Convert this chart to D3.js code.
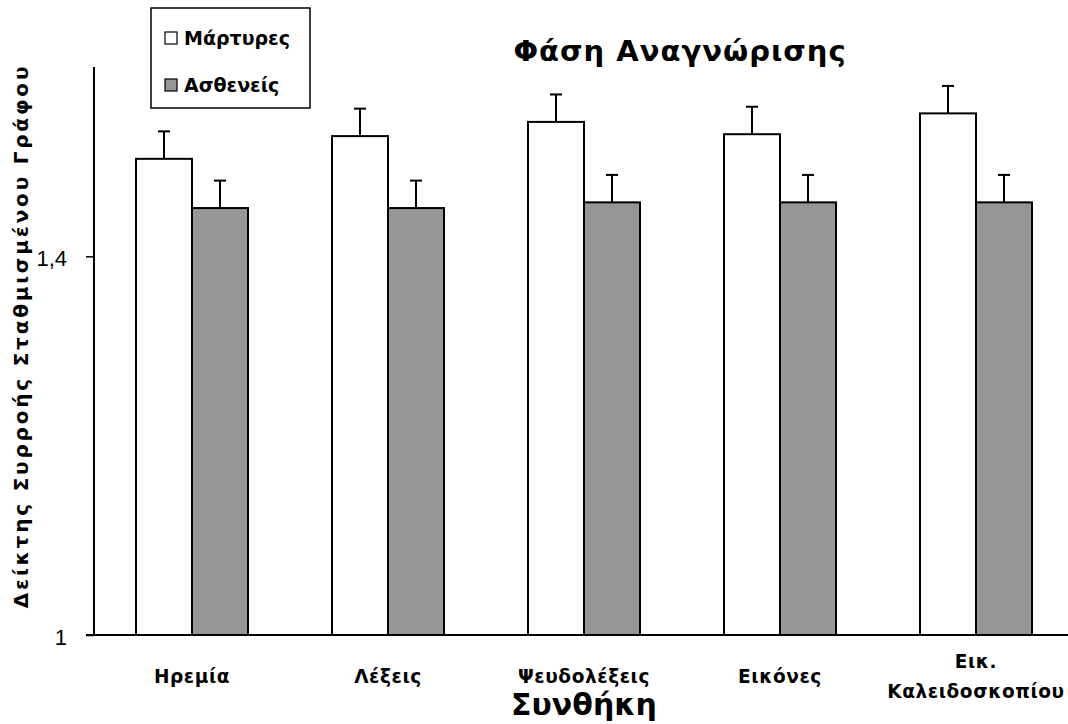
<!DOCTYPE html>
<html>
<head>
<meta charset="utf-8">
<script src="https://cdn.jsdelivr.net/npm/d3@7"></script>
<style>
  body { margin: 0; background: #fff; }
  svg { display: block; }
</style>
</head>
<body>
<svg id="chart"></svg>
<script>
const categories = ["Ηρεμία", "Λέξεις", "Ψευδολέξεις", "Εικόνες", "Εικ. Καλειδοσκοπίου"];
const controls = [1.503, 1.527, 1.542, 1.529, 1.551];
const patients = [1.451, 1.451, 1.457, 1.457, 1.457];
const controlsErr = [0.029, 0.029, 0.029, 0.029, 0.029];
const patientsErr = [0.029, 0.029, 0.029, 0.029, 0.029];
const seriesNames = ["Μάρτυρες", "Ασθενείς"];
const seriesColors = ["#ffffff", "#969696"];
const yTicks = [1, 1.4];

const width = 1068, height = 724;
const plotLeft = 94, plotTop = 67, plotBottom = 635, plotRight = 1074;

const svg = d3.select("#chart").attr("width", width).attr("height", height);

const x = d3.scaleBand().domain(categories).range([plotLeft, plotRight]);
const barW = 56;
const y = d3.scaleLinear().domain([1, 1.6]).range([plotBottom, plotTop]);

const rows = [];
categories.forEach((c, i) => {
  rows.push({ cat: c, s: 0, v: controls[i], e: controlsErr[i] });
  rows.push({ cat: c, s: 1, v: patients[i], e: patientsErr[i] });
});
const barX = d => x(d.cat) + x.bandwidth() / 2 - barW + d.s * barW;

// bars
svg.selectAll(".bar")
  .data(rows)
  .join("rect")
  .attr("class", "bar")
  .attr("x", barX)
  .attr("y", d => y(d.v))
  .attr("width", barW)
  .attr("height", d => plotBottom - y(d.v))
  .attr("fill", d => seriesColors[d.s])
  .attr("stroke", "#000")
  .attr("stroke-width", 2);

// error bars
const eb = svg.selectAll(".err").data(rows).join("g").attr("class", "err")
  .attr("stroke", "#000").attr("stroke-width", 2);
eb.append("line")
  .attr("x1", d => barX(d) + barW / 2).attr("x2", d => barX(d) + barW / 2)
  .attr("y1", d => y(d.v)).attr("y2", d => y(d.v + d.e));
eb.append("line")
  .attr("x1", d => barX(d) + barW / 2 - 6).attr("x2", d => barX(d) + barW / 2 + 6)
  .attr("y1", d => y(d.v + d.e)).attr("y2", d => y(d.v + d.e));

// y axis
const yAxis = d3.axisLeft(y).tickValues(yTicks).tickSize(8)
  .tickFormat(d => d3.format("")(d).replace(".", ","));
const yg = svg.append("g").attr("transform", `translate(${plotLeft},0)`).call(yAxis);
yg.select(".domain").attr("stroke", "#000").attr("stroke-width", 2).attr("d", `M0,${plotTop}V${plotBottom}`);
yg.selectAll(".tick line").attr("stroke", "#000").attr("stroke-width", 1.5);
yg.selectAll(".tick text")
  .attr("x", -27).attr("dy", "0.42em")
  .style("font-family", "Liberation Sans, Arial, sans-serif")
  .style("font-size", "22px").attr("fill", "#000");

// x axis line
svg.append("line")
  .attr("x1", plotLeft - 8).attr("x2", width)
  .attr("y1", plotBottom).attr("y2", plotBottom)
  .attr("stroke", "#000").attr("stroke-width", 2);

// category labels
const catFont = "DejaVu Sans, Verdana, sans-serif";
svg.selectAll(".cat")
  .data(categories)
  .join("text")
  .attr("class", "cat")
  .attr("text-anchor", "middle")
  .attr("font-family", catFont)
  .attr("font-weight", "bold")
  .attr("font-size", 18.5)
  .attr("letter-spacing", 0.6)
  .each(function (d) {
    const parts = d === "Εικ. Καλειδοσκοπίου" ? ["Εικ.", "Καλειδοσκοπίου"] : [d];
    const t = d3.select(this);
    const cx = x(d) + x.bandwidth() / 2;
    parts.forEach((p, i) => {
      t.append("tspan").attr("x", cx).attr("y", parts.length > 1 ? 668 + i * 30 : 683).text(p);
    });
  });

// axis titles
svg.append("text")
  .attr("x", 584).attr("y", 715)
  .attr("text-anchor", "middle")
  .attr("font-family", catFont).attr("font-weight", "bold").attr("font-size", 30)
  .text("Συνθήκη");

svg.append("text")
  .attr("transform", "translate(28,336) rotate(-90)")
  .attr("text-anchor", "middle")
  .attr("font-family", catFont).attr("font-weight", "bold").attr("font-size", 20)
  .attr("letter-spacing", 2.8)
  .text("Δείκτης Συρροής Σταθμισμένου Γράφου");

// title
svg.append("text")
  .attr("x", 680).attr("y", 61)
  .attr("text-anchor", "middle")
  .attr("font-family", catFont).attr("font-weight", "bold").attr("font-size", 29)
  .attr("letter-spacing", 1)
  .text("Φάση Αναγνώρισης");

// legend
const lg = svg.append("g");
lg.append("rect")
  .attr("x", 151).attr("y", 8).attr("width", 159).attr("height", 100)
  .attr("fill", "#fff").attr("stroke", "#000").attr("stroke-width", 1.5);
seriesNames.forEach((n, i) => {
  const yy = 45 + i * 47;
  lg.append("rect")
    .attr("x", 165).attr("y", yy - 13).attr("width", 12).attr("height", 12)
    .attr("fill", seriesColors[i]).attr("stroke", "#000").attr("stroke-width", 1.2);
  lg.append("text")
    .attr("x", 184).attr("y", yy)
    .attr("font-family", catFont).attr("font-weight", "bold").attr("font-size", 19)
    .text(n);
});
</script>
</body>
</html>
